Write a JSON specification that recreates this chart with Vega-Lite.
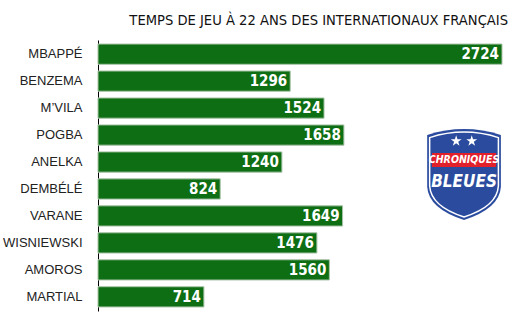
{
  "$schema": "https://vega.github.io/schema/vega-lite/v6.json",
  "width": 404,
  "height": 271,
  "autosize": {"type": "none"},
  "padding": {"left": 98, "top": 40, "right": 18, "bottom": 13},
  "background": "white",
  "config": {"view": {"stroke": null}},
  "title": {
    "text": "TEMPS DE JEU À 22 ANS DES INTERNATIONAUX FRANÇAIS",
    "anchor": "end",
    "frame": "group",
    "font": "DejaVu Sans Condensed",
    "fontSize": 14.6,
    "fontWeight": "normal",
    "color": "#111111",
    "dx": 6,
    "offset": 12
  },
  "data": {
    "values": [
      {"joueur": "MBAPPÉ", "minutes": 2724},
      {"joueur": "BENZEMA", "minutes": 1296},
      {"joueur": "M’VILA", "minutes": 1524},
      {"joueur": "POGBA", "minutes": 1658},
      {"joueur": "ANELKA", "minutes": 1240},
      {"joueur": "DEMBÉLÉ", "minutes": 824},
      {"joueur": "VARANE", "minutes": 1649},
      {"joueur": "WISNIEWSKI", "minutes": 1476},
      {"joueur": "AMOROS", "minutes": 1560},
      {"joueur": "MARTIAL", "minutes": 714}
    ]
  },
  "encoding": {
    "y": {
      "field": "joueur",
      "type": "nominal",
      "sort": null,
      "scale": {"paddingInner": 0.25, "paddingOuter": 0.15},
      "axis": {
        "title": null,
        "ticks": false,
        "domain": true,
        "domainColor": "#000000",
        "domainWidth": 1,
        "labelFont": "Liberation Sans",
        "labelFontSize": 13,
        "labelColor": "#222222",
        "labelPadding": 16
      }
    }
  },
  "layer": [
    {
      "mark": {"type": "bar", "color": "#0e6e13", "stroke": "#a9c4a9", "strokeWidth": 1},
      "encoding": {
        "x": {
          "field": "minutes",
          "type": "quantitative",
          "scale": {"domain": [0, 2724], "nice": false},
          "axis": null
        }
      }
    },
    {
      "mark": {
        "type": "text",
        "align": "right",
        "baseline": "middle",
        "dx": -3,
        "font": "DejaVu Sans Condensed",
        "fontWeight": "bold",
        "fontSize": 15,
        "color": "white"
      },
      "encoding": {
        "x": {"field": "minutes", "type": "quantitative"},
        "text": {"field": "minutes", "type": "quantitative", "format": "d"}
      }
    },
    {
      "data": {"values": [{"logo": "shield"}]},
      "layer": [
        {
          "mark": {
            "type": "point",
            "filled": true,
            "shape": "M -0.81 -0.87 Q 0 -1.13 0.81 -0.87 L 0.81 0.27 Q 0.78 0.75 0 1 Q -0.78 0.75 -0.81 0.27 Z",
            "size": 8281,
            "color": "#2b4c9e",
            "opacity": 1,
            "yOffset": 12.5
          },
          "encoding": {"x": {"datum": 2468}, "y": {"datum": "ANELKA"}}
        },
        {
          "mark": {
            "type": "point",
            "filled": false,
            "shape": "M -0.81 -0.87 Q 0 -1.13 0.81 -0.87 L 0.81 0.27 Q 0.78 0.75 0 1 Q -0.78 0.75 -0.81 0.27 Z",
            "size": 7200,
            "stroke": "white",
            "strokeWidth": 1.5,
            "opacity": 1,
            "yOffset": 12.5
          },
          "encoding": {"x": {"datum": 2468}, "y": {"datum": "ANELKA"}}
        },
        {
          "mark": {
            "type": "point",
            "filled": true,
            "shape": "M -1 -0.22 L 1 -0.22 L 1 0.22 L -1 0.22 Z",
            "size": 4100,
            "color": "#e2202b",
            "opacity": 1,
            "yOffset": -2
          },
          "encoding": {"x": {"datum": 2468}, "y": {"datum": "ANELKA"}}
        },
        {
          "mark": {"type": "point", "filled": true, "shape": "M 0 -1 L 0.225 -0.309 L 0.951 -0.309 L 0.363 0.118 L 0.588 0.809 L 0 0.382 L -0.588 0.809 L -0.363 0.118 L -0.951 -0.309 L -0.225 -0.309 Z", "size": 130, "color": "white", "opacity": 1, "yOffset": -21},
          "encoding": {"x": {"datum": 2415}, "y": {"datum": "ANELKA"}}
        },
        {
          "mark": {"type": "point", "filled": true, "shape": "M 0 -1 L 0.225 -0.309 L 0.951 -0.309 L 0.363 0.118 L 0.588 0.809 L 0 0.382 L -0.588 0.809 L -0.363 0.118 L -0.951 -0.309 L -0.225 -0.309 Z", "size": 130, "color": "white", "opacity": 1, "yOffset": -21},
          "encoding": {"x": {"datum": 2520}, "y": {"datum": "ANELKA"}}
        },
        {
          "mark": {"type": "text", "font": "DejaVu Sans Condensed", "fontWeight": "bold", "fontStyle": "italic", "fontSize": 10.5, "color": "white", "align": "center", "baseline": "middle", "yOffset": -2},
          "encoding": {"x": {"datum": 2468}, "y": {"datum": "ANELKA"}, "text": {"value": "CHRONIQUES"}}
        },
        {
          "mark": {"type": "text", "font": "DejaVu Sans Condensed", "fontWeight": "bold", "fontStyle": "italic", "fontSize": 17, "color": "white", "align": "center", "baseline": "middle", "yOffset": 20},
          "encoding": {"x": {"datum": 2468}, "y": {"datum": "ANELKA"}, "text": {"value": "BLEUES"}}
        }
      ]
    }
  ]
}
